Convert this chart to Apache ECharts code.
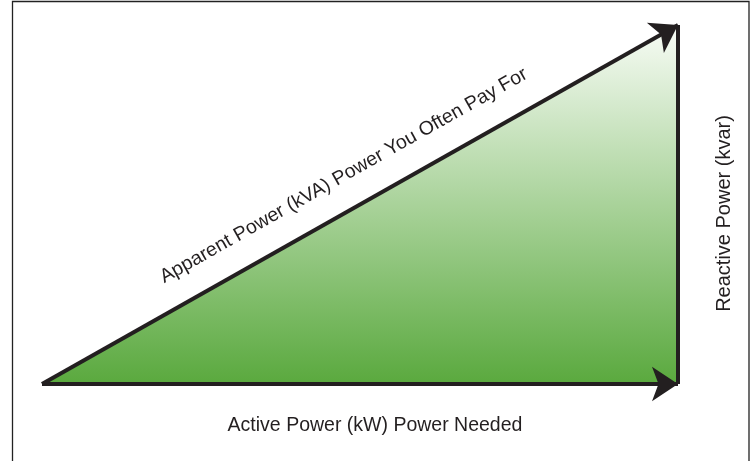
<!DOCTYPE html>
<html>
<head>
<meta charset="utf-8">
<script src="https://cdn.jsdelivr.net/npm/echarts@6/dist/echarts.min.js"></script>
<style>
  html, body { margin: 0; padding: 0; background: #fff; }
  #chart { width: 756px; height: 461px; }
</style>
</head>
<body>
<div id="chart"></div>
<script>
// power triangle values
const activePower = 80;     // kW
const reactivePower = 45;   // kvar
const sideNames = ['Active Power (kW) Power Needed', 'Reactive Power (kvar)', 'Apparent Power (kVA) Power You Often Pay For'];

const origin = [0, 0];
const corner = [activePower, 0];
const apex = [activePower, reactivePower];

let myChart = echarts.init(document.getElementById('chart'));
let option = {
  animation: false,
  textStyle: { fontFamily: 'Liberation Sans, Arial, sans-serif' },
  grid: { left: 42, right: 78, top: 25, bottom: 77 },
  graphic: [
    {
      type: 'polyline',
      shape: { points: [[12.5, 470], [12.5, 1.5], [749, 1.5], [749, 470]] },
      style: { stroke: '#222', lineWidth: 1.3, fill: null }
    }
  ],
  xAxis: {
    type: 'value', min: 0, max: activePower,
    axisLine: { show: false }, axisTick: { show: false }, axisLabel: { show: false }, splitLine: { show: false },
    name: sideNames[0], nameLocation: 'middle', nameGap: 32,
    nameTextStyle: { fontSize: 19.5, color: '#231f20', padding: [0, 0, 0, 30] }
  },
  yAxis: {
    type: 'value', min: 0, max: reactivePower, position: 'right',
    axisLine: { show: false }, axisTick: { show: false }, axisLabel: { show: false }, splitLine: { show: false },
    name: sideNames[1], nameLocation: 'middle', nameGap: 36, nameRotate: 90,
    nameTextStyle: { fontSize: 20, color: '#231f20', padding: [0, 18, 0, 0] }
  },
  series: [
    {
      type: 'line',
      data: [origin, apex],
      symbol: 'none',
      lineStyle: { width: 0 },
      areaStyle: {
        opacity: 1,
        color: new echarts.graphic.LinearGradient(0, 0, 0, 1, [
          { offset: 0, color: '#f8fcf6' },
          { offset: 1, color: '#5aa93e' }
        ])
      },
      z: 1
    },
    {
      type: 'lines',
      coordinateSystem: 'cartesian2d',
      clip: false,
      symbol: 'none',
      lineStyle: { color: '#231f20', width: 4, opacity: 1 },
      data: [{ coords: [corner, apex] }],
      z: 2
    },
    {
      type: 'lines',
      coordinateSystem: 'cartesian2d',
      clip: false,
      symbol: ['none', 'arrow'],
      symbolSize: 26,
      lineStyle: { color: '#231f20', width: 4, opacity: 1 },
      data: [
        { coords: [origin, corner] },
        {
          coords: [origin, apex],
          label: {
            show: true, position: 'middle', distance: 23,
            formatter: sideNames[2], fontSize: 19.5, color: '#231f20'
          }
        }
      ],
      z: 3
    }
  ]
};
myChart.setOption(option);
</script>
</body>
</html>
